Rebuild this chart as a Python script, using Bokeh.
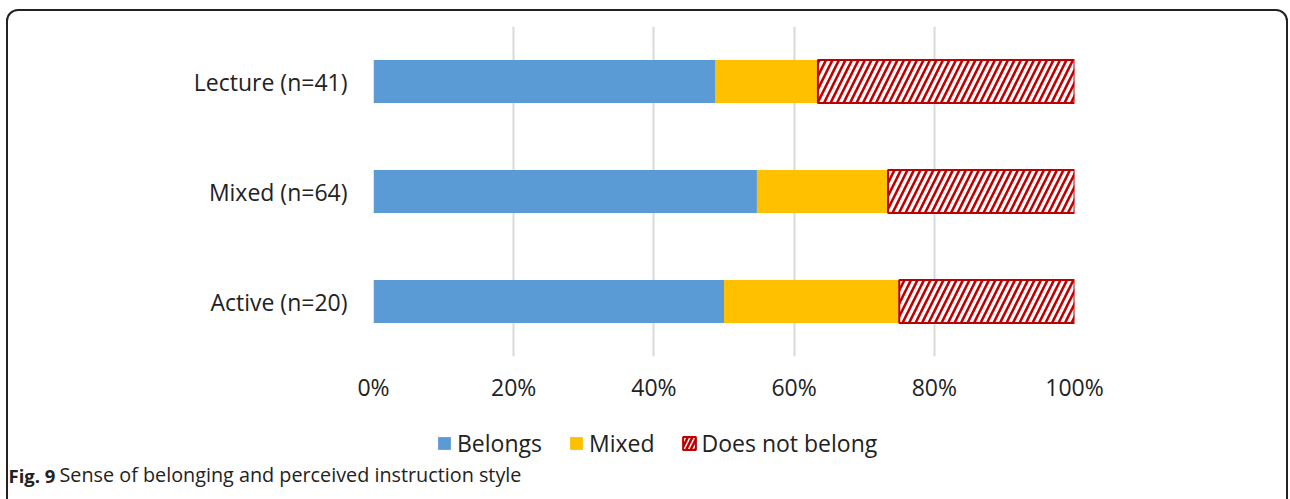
from bokeh.plotting import figure
from bokeh.layouts import column
from bokeh.models import (ColumnDataSource, FactorRange, Range1d, NumeralTickFormatter,
                          Legend, LegendItem, Label, InlineStyleSheet, FixedTicker)
from bokeh.embed import file_html
from bokeh.resources import INLINE

# ---- data (shares of respondents) ----
categories = ["Active (n=20)", "Mixed (n=64)", "Lecture (n=41)"]
belongs = [0.500, 0.547, 0.488]
mixed = [0.250, 0.187, 0.146]
not_belong = [0.250, 0.266, 0.366]
series_names = ["Belongs", "Mixed", "Does not belong"]
x_ticks = [0, 0.2, 0.4, 0.6, 0.8, 1.0]
caption_bold = "Fig. 9"
caption_text = "Sense of belonging and perceived instruction style"

BLUE = "#5B9BD5"
YELLOW = "#FFC000"
RED = "#C00000"
FONT = "Open Sans"
TXT = "#222222"

fills = [BLUE, YELLOW, "white"]
lines = [None, None, RED]
lwidths = [0, 0, 2]
hatches = [" ", " ", "/"]
hcolors = [BLUE, YELLOW, RED]
HSCALE = 13
HWEIGHT = 2.6

src = ColumnDataSource(dict(cat=categories, belongs=belongs, mixed=mixed, not_belong=not_belong))

# ---------------- main chart ----------------
p = figure(width=1290, height=410, y_range=FactorRange(*categories), x_range=Range1d(0, 1),
           output_backend="svg", toolbar_location=None,
           min_border_left=373, min_border_right=216, min_border_top=26, min_border_bottom=54)
p.frame_align = False

renderers = p.hbar_stack(["belongs", "mixed", "not_belong"], y="cat", height=0.39, source=src,
                         fill_color=fills, line_color=lines, line_width=lwidths,
                         hatch_pattern=hatches, hatch_color=hcolors,
                         hatch_scale=[HSCALE] * 3, hatch_weight=[HWEIGHT] * 3)

p.outline_line_color = None
p.background_fill_color = None
p.border_fill_color = None
p.ygrid.grid_line_color = None
p.xgrid.grid_line_color = "#D9D9D9"
p.xgrid.grid_line_width = 2

p.xaxis.ticker = FixedTicker(ticks=x_ticks)
p.xaxis.formatter = NumeralTickFormatter(format="0%")
for ax in (p.xaxis[0], p.yaxis[0]):
    ax.axis_line_color = None
    ax.major_tick_line_color = None
    ax.minor_tick_line_color = None
    ax.major_label_text_font = FONT
    ax.major_label_text_font_size = "23px"
    ax.major_label_text_color = TXT
p.xaxis.major_label_standoff = 8
p.yaxis.major_label_standoff = 20

# ---------------- legend + caption strip ----------------
q = figure(width=1290, height=89, x_range=Range1d(0, 1290), y_range=Range1d(499, 410),
           output_backend="svg", toolbar_location=None, x_axis_type=None, y_axis_type=None,
           min_border_left=0, min_border_right=0, min_border_top=0, min_border_bottom=0)
q.frame_align = False
q.outline_line_color = None
q.background_fill_color = None
q.border_fill_color = None
q.grid.grid_line_color = None

# legend swatches: one zero-width bar each, placed outside the visible range
swatch_src = ColumnDataSource(dict(y=[600], left=[0], right=[0]))
swatches = [q.hbar(y="y", left="left", right="right", height=1, source=swatch_src,
                   fill_color=f, line_color=lc, line_width=lw, hatch_pattern=hp,
                   hatch_color=hc, hatch_scale=9, hatch_weight=HWEIGHT)
            for f, lc, lw, hp, hc in zip(fills, lines, lwidths, hatches, hcolors)]

legend = Legend(items=[LegendItem(label=n, renderers=[r]) for n, r in zip(series_names, swatches)],
                orientation="horizontal", location=(436, 40),
                glyph_width=16, glyph_height=16, label_standoff=5, spacing=26,
                label_text_font=FONT, label_text_font_size="23px", label_text_color=TXT,
                border_line_color=None, background_fill_alpha=0, padding=0, margin=0)
q.add_layout(legend, "center")

q.add_layout(Label(x=8, y=487, text=caption_bold, text_font=FONT, text_font_style="bold",
                   text_font_size="18.5px", text_color=TXT))
q.add_layout(Label(x=59, y=487, text=caption_text, text_font=FONT,
                   text_font_size="19.8px", text_color=TXT))

layout = column(p, q, spacing=0)
layout.stylesheets = [InlineStyleSheet(css=":host{position:relative;background:white;} :host::after{content:'';position:absolute;left:6px;top:9px;width:1282px;height:540px;border:2px solid #222;border-radius:12px;pointer-events:none;box-sizing:border-box;}")]

open("out.html", "w").write(file_html(layout, INLINE))
